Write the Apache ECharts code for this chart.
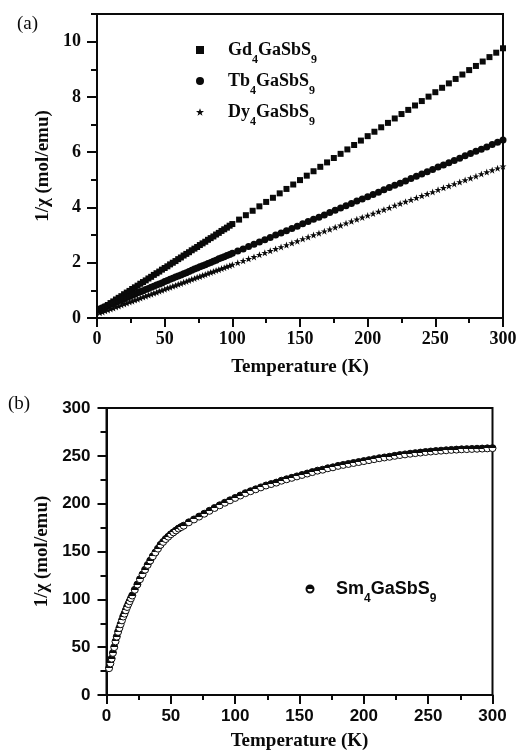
<!DOCTYPE html>
<html><head><meta charset="utf-8">
<script src="https://cdn.jsdelivr.net/npm/echarts@6/dist/echarts.min.js"></script>
<style>html,body{margin:0;padding:0;background:#fff}#c{width:520px;height:753px}</style>
</head><body><div id="c"></div>
<script>
// ---------- data ----------
const tempGd = [2,4,6,8,10,12,14,16,18,20,22,24,26,28,30,32,34,36,38,40,42,44,46,48,50,52,54,56,58,60,62,64,66,68,70,72,74,76,78,80,82,84,86,88,90,92,94,96,98,100,105,110,115,120,125,130,135,140,145,150,155,160,165,170,175,180,185,190,195,200,205,210,215,220,225,230,235,240,245,250,255,260,265,270,275,280,285,290,295,300];
const gdVals = [0.28,0.35,0.41,0.47,0.54,0.60,0.67,0.73,0.79,0.86,0.92,0.98,1.05,1.11,1.17,1.24,1.30,1.36,1.43,1.49,1.56,1.62,1.68,1.75,1.81,1.87,1.94,2.00,2.06,2.13,2.19,2.26,2.32,2.38,2.45,2.51,2.57,2.64,2.70,2.76,2.83,2.89,2.95,3.02,3.08,3.15,3.21,3.27,3.34,3.40,3.56,3.72,3.88,4.04,4.20,4.35,4.51,4.67,4.83,4.99,5.15,5.31,5.47,5.63,5.79,5.94,6.10,6.26,6.42,6.58,6.74,6.90,7.06,7.22,7.38,7.53,7.69,7.85,8.01,8.17,8.33,8.49,8.65,8.81,8.97,9.12,9.28,9.44,9.60,9.76];

const tempTbDy = [2,4,6,8,10,12,14,16,18,20,22,24,26,28,30,32,34,36,38,40,42,44,46,48,50,52,54,56,58,60,62,64,66,68,70,72,74,76,78,80,82,84,86,88,90,92,94,96,98,100,104,108,112,116,120,124,128,132,136,140,144,148,152,156,160,164,168,172,176,180,184,188,192,196,200,204,208,212,216,220,224,228,232,236,240,244,248,252,256,260,264,268,272,276,280,284,288,292,296,300];
const tbVals = [0.33,0.37,0.41,0.45,0.50,0.54,0.58,0.62,0.66,0.70,0.74,0.78,0.82,0.86,0.91,0.95,0.99,1.03,1.07,1.11,1.15,1.19,1.23,1.27,1.32,1.36,1.40,1.44,1.48,1.52,1.56,1.60,1.64,1.68,1.73,1.77,1.81,1.85,1.89,1.93,1.97,2.01,2.05,2.09,2.14,2.18,2.22,2.26,2.30,2.34,2.42,2.50,2.59,2.67,2.75,2.83,2.91,3.00,3.08,3.16,3.24,3.32,3.41,3.49,3.57,3.65,3.73,3.82,3.90,3.98,4.06,4.14,4.23,4.31,4.39,4.47,4.55,4.64,4.72,4.80,4.88,4.96,5.05,5.13,5.21,5.29,5.37,5.46,5.54,5.62,5.70,5.78,5.87,5.95,6.03,6.11,6.19,6.28,6.36,6.44];
const dyVals = [0.19,0.22,0.26,0.29,0.33,0.36,0.40,0.43,0.47,0.51,0.54,0.58,0.61,0.65,0.68,0.72,0.76,0.79,0.83,0.86,0.90,0.93,0.97,1.00,1.04,1.08,1.11,1.15,1.18,1.22,1.25,1.29,1.32,1.36,1.40,1.43,1.47,1.50,1.54,1.57,1.61,1.65,1.68,1.72,1.75,1.79,1.82,1.86,1.89,1.93,2.00,2.07,2.14,2.21,2.29,2.36,2.43,2.50,2.57,2.64,2.71,2.78,2.86,2.93,3.00,3.07,3.14,3.21,3.28,3.35,3.43,3.50,3.57,3.64,3.71,3.78,3.85,3.92,3.99,4.07,4.14,4.21,4.28,4.35,4.42,4.49,4.56,4.64,4.71,4.78,4.85,4.92,4.99,5.06,5.13,5.21,5.28,5.35,5.42,5.49];

const tempSm = [2,3,4,5,6,7,8,9,10,11,12,13,14,15,16,17,18,19,20,22,24,26,28,30,32,34,36,38,40,42,44,46,48,50,52,54,56,58,60,64,68,72,76,80,84,88,92,96,100,104,108,112,116,120,124,128,132,136,140,144,148,152,156,160,164,168,172,176,180,184,188,192,196,200,204,208,212,216,220,224,228,232,236,240,244,248,252,256,260,264,268,272,276,280,284,288,292,296,300];
const smVals = [28,33,38,44,50,56,61,66,70,74,78,82,85,88.5,92,95,98,101,104,110,115.5,121,126,131,136,140.5,145,149,153,157,160,163,165.5,168,170,172,174,175.5,177,180.5,183.5,186.5,189.5,192.5,195.5,198.3,201,203.5,206,208.5,211,213,215,217,219,220.5,222,224,225.5,227,228.5,230,231.5,233,234.5,235.5,237,238,239.5,240.5,241.5,242.5,243.5,244.5,245.5,246.5,247.5,248.3,249,250,250.8,251.5,252.2,252.8,253.4,254,254.5,255,255.4,255.8,256.2,256.5,256.8,257,257.2,257.4,257.6,257.8,258];

const xTicks = [0,50,100,150,200,250,300];
const yTicksA = [0,2,4,6,8,10];
const yMinorA = [1,3,5,7,9,11];
const yTicksB = [0,50,100,150,200,250,300];

const namesA = ['Gd4GaSbS9','Tb4GaSbS9','Dy4GaSbS9'];
const legendParts = {
  'Gd4GaSbS9': ['Gd','4','GaSbS','9'],
  'Tb4GaSbS9': ['Tb','4','GaSbS','9'],
  'Dy4GaSbS9': ['Dy','4','GaSbS','9'],
  'Sm4GaSbS9': ['Sm','4','GaSbS','9']
};
const xTitle = 'Temperature (K)';
const yTitle = '1/\u03c7 (mol/emu)';

// ---------- styles ----------
const ink = '#0a0a0a';
const serif = 'Liberation Serif';
const sans = 'Liberation Sans';
const starPath = 'path://M12,0 L14.9,8.3 L23.4,8.3 L16.5,13.4 L19.1,21.7 L12,16.6 L4.9,21.7 L7.5,13.4 L0.6,8.3 L9.1,8.3 Z';

const pairs = (xs, ys) => xs.map((x, i) => [x, ys[i]]);
const fmt = n => { const p = legendParts[n]; return '{f|' + p[0] + '}{s|' + p[1] + '}{m|' + p[2] + '}{s|' + p[3] + '}'; };
const richFor = (fam, pad) => ({
  f: {fontFamily: fam, fontWeight: 'bold', fontSize: 18, color: ink, padding: [0,0,0,pad]},
  m: {fontFamily: fam, fontWeight: 'bold', fontSize: 18, color: ink},
  s: {fontFamily: fam, fontWeight: 'bold', fontSize: 12, lineHeight: 12, color: ink, padding: [20,0,0,0]}
});

const lineSt = {color: ink, width: 2};
const tickLabelSerif = {fontFamily: serif, fontWeight: 'bold', fontSize: 18, color: ink};
const tickLabelSans = {fontFamily: sans, fontWeight: 'bold', fontSize: 17, color: ink};
const titleSt = {fontFamily: serif, fontWeight: 'bold', fontSize: 19, color: ink};

const smFill = new echarts.graphic.LinearGradient(0, 0, 0, 1, [
  {offset: 0, color: ink}, {offset: 0.5, color: ink},
  {offset: 0.5, color: '#ffffff'}, {offset: 1, color: '#ffffff'}
]);

const chart = echarts.init(document.getElementById('c'), null, {renderer: 'canvas'});
chart.setOption({
  animation: false,
  backgroundColor: '#ffffff',
  grid: [
    {left: 97, top: 14, width: 406, height: 304, show: true, borderColor: ink, borderWidth: 2},
    {left: 106.5, top: 408, width: 386, height: 287, show: true, borderColor: ink, borderWidth: 2}
  ],
  xAxis: [
    {gridIndex: 0, type: 'value', min: 0, max: 300, interval: 50,
     axisLine: {show: true, onZero: false, lineStyle: lineSt},
     axisTick: {show: true, length: 9, lineStyle: lineSt, customValues: xTicks},
     minorTick: {show: true, splitNumber: 2, length: 5, lineStyle: lineSt},
     axisLabel: {margin: 12, ...tickLabelSerif, customValues: xTicks},
     splitLine: {show: false},
     name: xTitle, nameLocation: 'middle', nameGap: 40, nameTextStyle: titleSt},
    {gridIndex: 1, type: 'value', min: 0, max: 300, interval: 50,
     axisLine: {show: true, onZero: false, lineStyle: lineSt},
     axisTick: {show: true, length: 9, lineStyle: lineSt, customValues: xTicks},
     minorTick: {show: true, splitNumber: 2, length: 5, lineStyle: lineSt},
     axisLabel: {margin: 13, ...tickLabelSans, customValues: xTicks},
     splitLine: {show: false},
     name: xTitle, nameLocation: 'middle', nameGap: 37, nameTextStyle: titleSt}
  ],
  yAxis: [
    {gridIndex: 0, type: 'value', position: 'left', min: 0, max: 11, interval: 2,
     axisLine: {show: true, onZero: false, lineStyle: lineSt},
     axisTick: {show: true, length: 10, lineStyle: lineSt, customValues: yTicksA},
     axisLabel: {margin: 16, ...tickLabelSerif, customValues: yTicksA},
     splitLine: {show: false},
     name: yTitle, nameLocation: 'middle', nameGap: 42, nameTextStyle: titleSt},
    {gridIndex: 0, type: 'value', position: 'left', min: 0, max: 11, interval: 1,
     axisLine: {show: false, onZero: false},
     axisTick: {show: true, length: 6, lineStyle: lineSt, customValues: yMinorA},
     axisLabel: {show: false},
     splitLine: {show: false}},
    {gridIndex: 1, type: 'value', position: 'left', min: 0, max: 300, interval: 50,
     axisLine: {show: true, onZero: false, lineStyle: lineSt},
     axisTick: {show: true, length: 9, lineStyle: lineSt, customValues: yTicksB},
     minorTick: {show: true, splitNumber: 2, length: 6, lineStyle: lineSt},
     axisLabel: {margin: 16, ...tickLabelSans, customValues: yTicksB},
     splitLine: {show: false},
     name: yTitle, nameLocation: 'middle', nameGap: 52, nameTextStyle: titleSt}
  ],
  legend: [
    {data: namesA, orient: 'vertical', left: 196, top: 34, padding: 0,
     itemWidth: 8, itemHeight: 8, itemGap: -1, selectedMode: false,
     formatter: fmt, textStyle: {rich: richFor(serif, 19)}},
    {data: ['Sm4GaSbS9'], orient: 'vertical', left: 305.5, top: 573, padding: 0,
     itemWidth: 7, itemHeight: 7, itemGap: 0, selectedMode: false,
     formatter: fmt, textStyle: {rich: richFor(sans, 17.5)}}
  ],
  graphic: [
    {type: 'text', left: 17, top: 15, style: {text: '(a)', font: '19px "Liberation Serif"', fill: ink}},
    {type: 'text', left: 8, top: 395, style: {text: '(b)', font: '19px "Liberation Serif"', fill: ink}}
  ],
  series: [
    {name: 'Gd4GaSbS9', type: 'scatter', xAxisIndex: 0, yAxisIndex: 0, symbol: 'rect', symbolSize: 6,
     itemStyle: {color: ink, opacity: 1}, data: pairs(tempGd, gdVals)},
    {name: 'Tb4GaSbS9', type: 'scatter', xAxisIndex: 0, yAxisIndex: 0, symbol: 'circle', symbolSize: 7,
     itemStyle: {color: ink, opacity: 1}, data: pairs(tempTbDy, tbVals)},
    {name: 'Dy4GaSbS9', type: 'scatter', xAxisIndex: 0, yAxisIndex: 0, symbol: starPath, symbolSize: 7,
     itemStyle: {color: ink, opacity: 1}, data: pairs(tempTbDy, dyVals)},
    {name: 'Sm4GaSbS9', type: 'scatter', xAxisIndex: 1, yAxisIndex: 2, symbol: 'circle', symbolSize: 7,
     itemStyle: {color: smFill, borderColor: ink, borderWidth: 1, opacity: 1}, data: pairs(tempSm, smVals)}
  ]
});
</script>
</body></html>
